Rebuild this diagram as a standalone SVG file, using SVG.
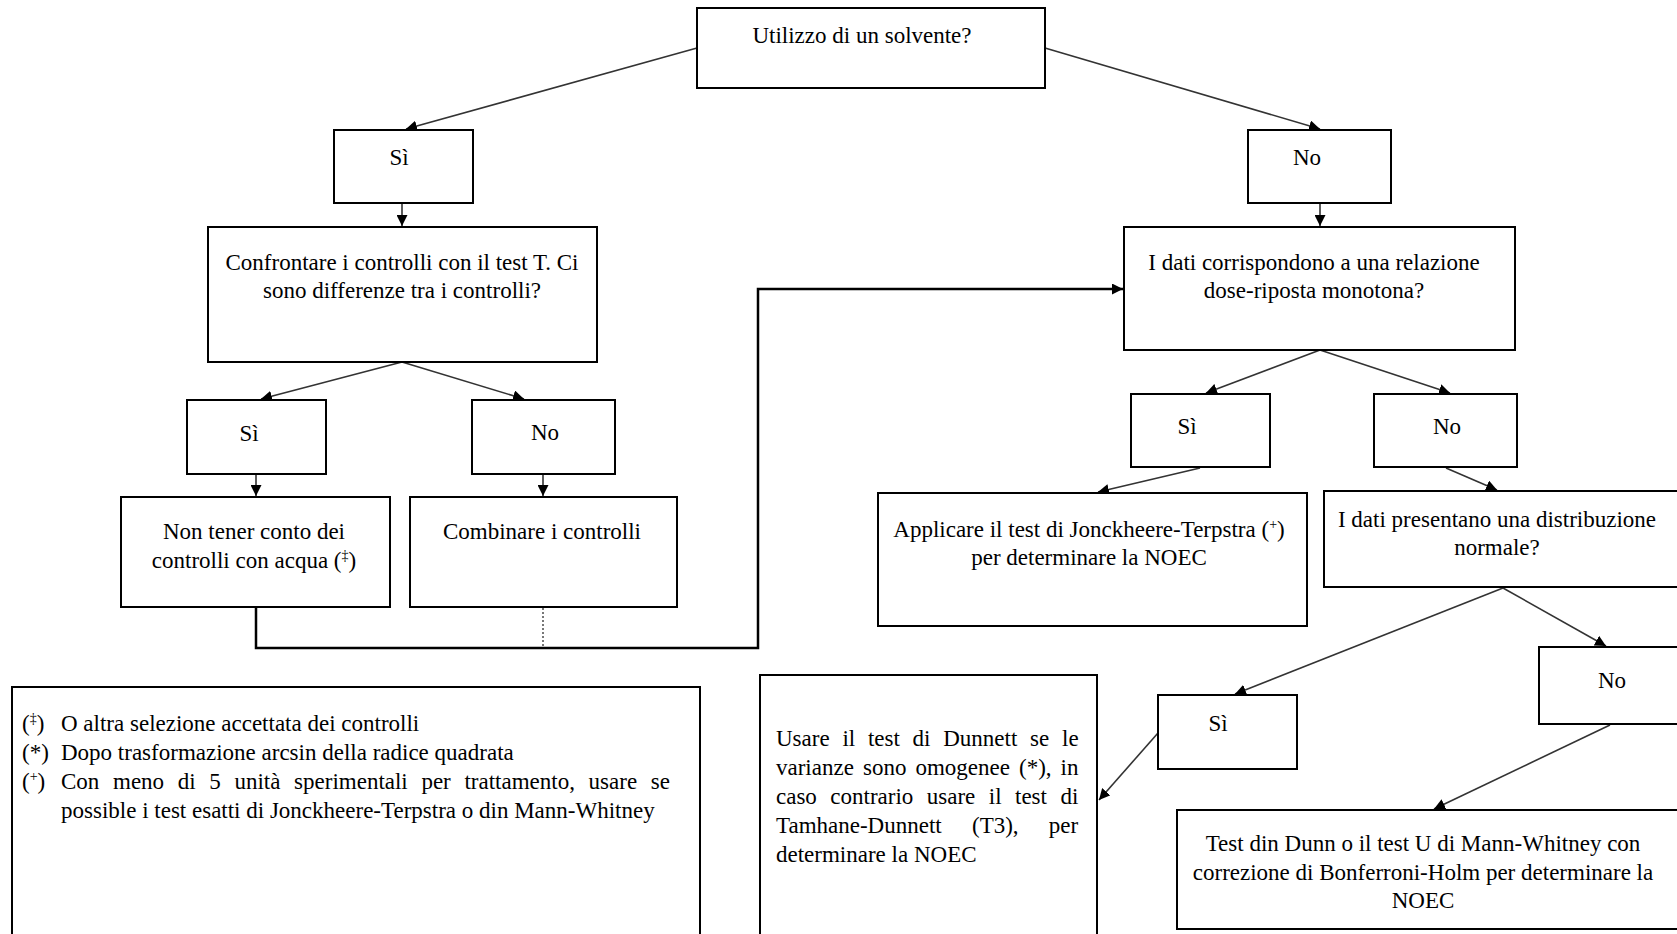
<svg xmlns="http://www.w3.org/2000/svg" width="1677" height="934" viewBox="0 0 1677 934">
<defs>
<style>
.box{fill:#fff;stroke:#000;stroke-width:2}
.t{font-family:"Liberation Serif","Times New Roman",serif;font-size:23px;fill:#000}
.c{text-anchor:middle}
.con{fill:none;stroke:#333;stroke-width:1.6}
.loop{fill:none;stroke:#000;stroke-width:2.5}
.dot{fill:none;stroke:#777;stroke-width:2;stroke-dasharray:2 2}
.sup{font-size:14px}
</style>
<marker id="ah" viewBox="0 0 10 10" refX="10" refY="5" markerWidth="11" markerHeight="11" markerUnits="userSpaceOnUse" orient="auto">
<path d="M0,0 L10,5 L0,10 z" fill="#000"/>
</marker>
</defs>
<rect width="1677" height="934" fill="#fff"/>

<g id="connectors">
<line class="con" x1="697" y1="48" x2="406" y2="129" marker-end="url(#ah)"/>
<line class="con" x1="1045" y1="48" x2="1320" y2="129" marker-end="url(#ah)"/>
<line class="con" x1="402" y1="204" x2="402" y2="226" marker-end="url(#ah)"/>
<line class="con" x1="1320" y1="204" x2="1320" y2="226" marker-end="url(#ah)"/>
<line class="con" x1="402" y1="362" x2="261" y2="399" marker-end="url(#ah)"/>
<line class="con" x1="402" y1="362" x2="524" y2="399" marker-end="url(#ah)"/>
<line class="con" x1="256" y1="474" x2="256" y2="496" marker-end="url(#ah)"/>
<line class="con" x1="543" y1="474" x2="543" y2="496" marker-end="url(#ah)"/>
<polyline class="loop" points="256,608 256,648 758,648 758,289 1123,289" marker-end="url(#ah)"/>
<line class="dot" x1="543" y1="608" x2="543" y2="648"/>
<line class="con" x1="1320" y1="350" x2="1206" y2="393" marker-end="url(#ah)"/>
<line class="con" x1="1320" y1="350" x2="1450" y2="393" marker-end="url(#ah)"/>
<line class="con" x1="1200" y1="468" x2="1098" y2="492" marker-end="url(#ah)"/>
<line class="con" x1="1446" y1="468" x2="1497" y2="490" marker-end="url(#ah)"/>
<line class="con" x1="1503" y1="588" x2="1235" y2="694" marker-end="url(#ah)"/>
<line class="con" x1="1503" y1="588" x2="1606" y2="646" marker-end="url(#ah)"/>
<line class="con" x1="1158" y1="733" x2="1099" y2="800" marker-end="url(#ah)"/>
<line class="con" x1="1610" y1="725" x2="1434" y2="809" marker-end="url(#ah)"/>
</g>

<g id="n-solvente">
<rect class="box" x="697" y="8" width="348" height="80"/>
<text class="t c" x="862" y="43">Utilizzo di un solvente?</text>
</g>
<g id="n-si1">
<rect class="box" x="334" y="130" width="139" height="73"/>
<text class="t c" x="399" y="165">Sì</text>
</g>
<g id="n-no1">
<rect class="box" x="1248" y="130" width="143" height="73"/>
<text class="t c" x="1307" y="165">No</text>
</g>
<g id="n-confrontare">
<rect class="box" x="208" y="227" width="389" height="135"/>
<text class="t c" x="402" y="270">Confrontare i controlli con il test T. Ci</text>
<text class="t c" x="402" y="298">sono differenze tra i controlli?</text>
</g>
<g id="n-monotona">
<rect class="box" x="1124" y="227" width="391" height="123"/>
<text class="t c" x="1314" y="270">I dati corrispondono a una relazione</text>
<text class="t c" x="1314" y="298">dose-riposta monotona?</text>
</g>
<g id="n-si2">
<rect class="box" x="187" y="400" width="139" height="74"/>
<text class="t c" x="249" y="441">Sì</text>
</g>
<g id="n-no2">
<rect class="box" x="472" y="400" width="143" height="74"/>
<text class="t c" x="545" y="440">No</text>
</g>
<g id="n-nontener">
<rect class="box" x="121" y="497" width="269" height="110"/>
<text class="t c" x="254" y="539">Non tener conto dei</text>
<text class="t c" x="254" y="568">controlli con acqua (<tspan class="sup" dy="-8">‡</tspan><tspan dy="8">)</tspan></text>
</g>
<g id="n-combinare">
<rect class="box" x="410" y="497" width="267" height="110"/>
<text class="t c" x="542" y="539">Combinare i controlli</text>
</g>
<g id="n-si3">
<rect class="box" x="1131" y="394" width="139" height="73"/>
<text class="t c" x="1187" y="434">Sì</text>
</g>
<g id="n-no3">
<rect class="box" x="1374" y="394" width="143" height="73"/>
<text class="t c" x="1447" y="434">No</text>
</g>
<g id="n-applicare">
<rect class="box" x="878" y="493" width="429" height="133"/>
<text class="t c" x="1089" y="537">Applicare il test di Jonckheere-Terpstra (<tspan class="sup" dy="-8">+</tspan><tspan dy="8">)</tspan></text>
<text class="t c" x="1089" y="565">per determinare la NOEC</text>
</g>
<g id="n-normale">
<rect class="box" x="1324" y="491" width="360" height="96"/>
<text class="t c" x="1497" y="527">I dati presentano una distribuzione</text>
<text class="t c" x="1497" y="555">normale?</text>
</g>
<g id="n-no4">
<rect class="box" x="1539" y="647" width="145" height="77"/>
<text class="t c" x="1612" y="688">No</text>
</g>
<g id="n-si4">
<rect class="box" x="1158" y="695" width="139" height="74"/>
<text class="t c" x="1218" y="731">Sì</text>
</g>
<g id="n-dunnett">
<rect class="box" x="760" y="675" width="337" height="265"/>
<text class="t" x="776" y="746" style="word-spacing:7px">Usare il test di Dunnett se le</text>
<text class="t" x="776" y="775" style="word-spacing:3.3px">varianze sono omogenee (*), in</text>
<text class="t" x="776" y="804" style="word-spacing:7.7px">caso contrario usare il test di</text>
<text class="t" x="776" y="833" style="word-spacing:24.5px">Tamhane-Dunnett (T3), per</text>
<text class="t" x="776" y="862">determinare la NOEC</text>
</g>
<g id="n-dunn">
<rect class="box" x="1177" y="810" width="507" height="119"/>
<text class="t c" x="1423" y="851">Test din Dunn o il test U di Mann-Whitney con</text>
<text class="t c" x="1423" y="880">correzione di Bonferroni-Holm per determinare la</text>
<text class="t c" x="1423" y="908">NOEC</text>
</g>
<g id="n-note">
<rect class="box" x="12" y="687" width="688" height="260"/>
<text class="t" x="22" y="731">(<tspan class="sup" dy="-8">‡</tspan><tspan dy="8">)</tspan></text>
<text class="t" x="61" y="731">O altra selezione accettata dei controlli</text>
<text class="t" x="22" y="760">(*)</text>
<text class="t" x="61" y="760">Dopo trasformazione arcsin della radice quadrata</text>
<text class="t" x="22" y="789">(<tspan class="sup" dy="-8">+</tspan><tspan dy="8">)</tspan></text>
<text class="t" x="61" y="789" style="word-spacing:7.9px">Con meno di 5 unità sperimentali per trattamento, usare se</text>
<text class="t" x="61" y="818">possible i test esatti di Jonckheere-Terpstra o din Mann-Whitney</text>
</g>
</svg>
